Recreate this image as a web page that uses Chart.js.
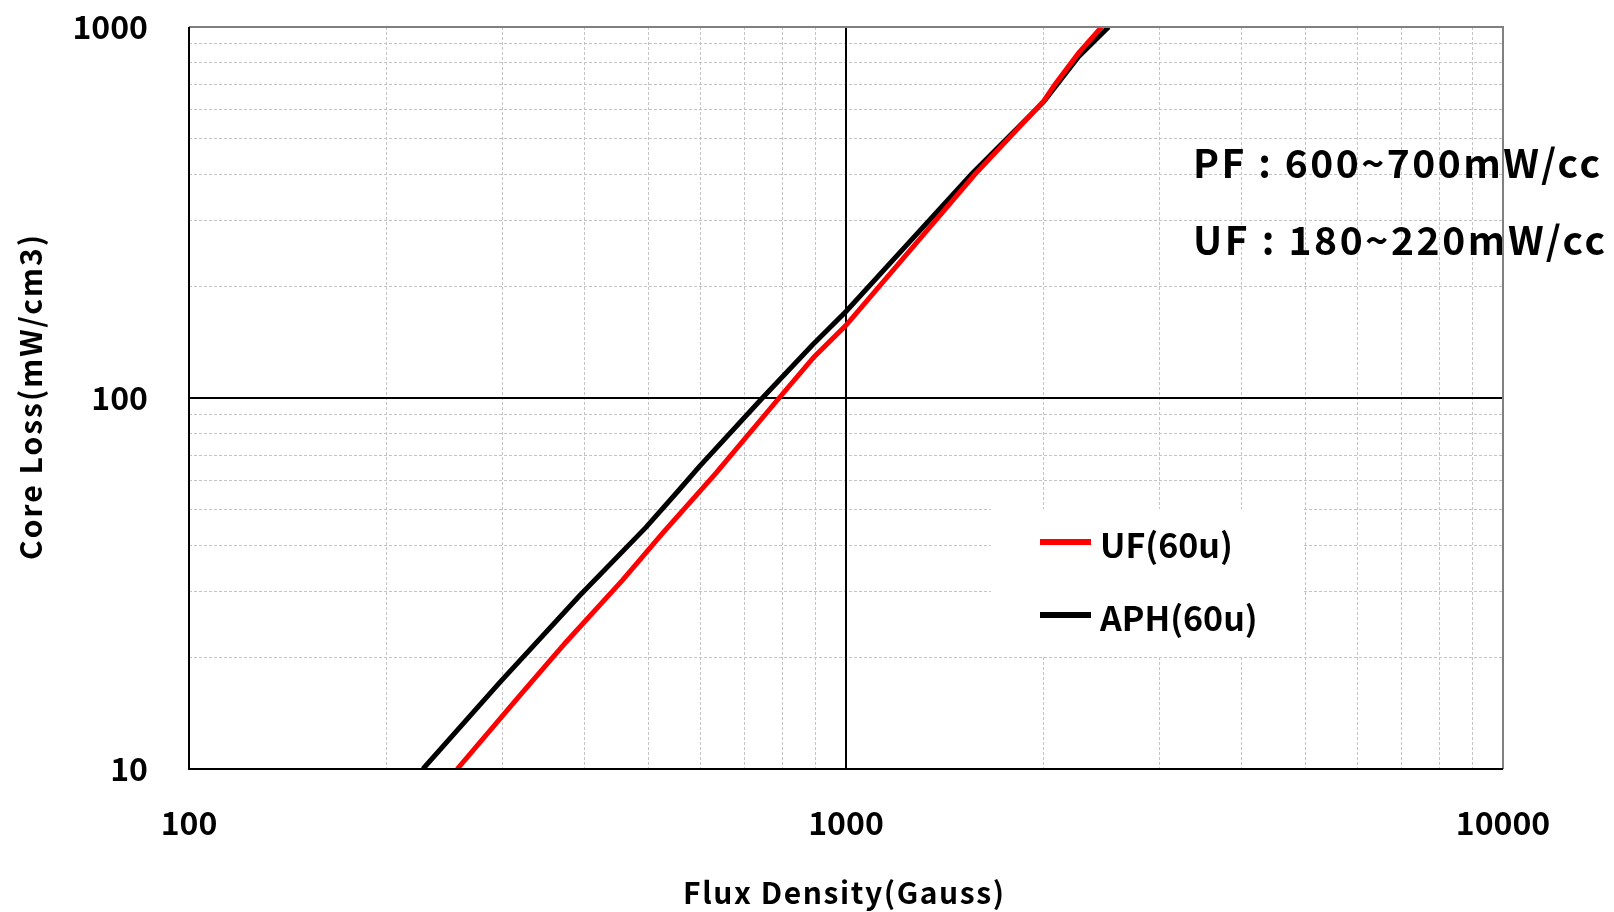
<!DOCTYPE html>
<html><head><meta charset="utf-8">
<script src="https://cdn.jsdelivr.net/npm/chart.js@4.4.1/dist/chart.umd.min.js"></script>
<style>html,body{margin:0;padding:0;background:#fff}#wrap{width:1614px;height:912px;position:relative}</style>
</head><body><div id="wrap"><canvas id="c"></canvas></div>
<script>
const seriesNames = ['UF(60u)', 'APH(60u)'];
const ufFlux  = [256, 318, 375, 457, 526, 634, 791, 894, 1000, 1570, 2000, 2080, 2259, 2449];
const ufLoss  = [10, 15.7, 22, 32.3, 43.2, 62.7, 100, 129, 157, 400, 632, 700, 850, 1000];
const aphFlux = [227, 297, 393, 496, 557, 598, 746, 889, 1000, 1556, 2000, 2259, 2510];
const aphLoss = [10, 17.1, 29.3, 44.8, 56.5, 65.3, 100, 139, 171, 403, 629, 832, 1000];
const xGridValues = [100,200,300,400,500,600,700,800,900,1000,2000,3000,4000,5000,6000,7000,8000,9000,10000];
const yGridValues = [10,20,30,40,50,60,70,80,90,100,200,300,400,500,600,700,800,900,1000];
const xTickLabels = ['100', '1000', '10000'];
const yTickLabels = ['10', '100', '1000'];
const xTitle = 'Flux Density(Gauss)';
const yTitle = 'Core Loss(mW/cm3)';
const noteLines = ['PF : 600~700mW/cc', 'UF : 180~220mW/cc'];
const seriesColors = ['#ff0000', '#000000'];

const FONT = '"Noto Sans CJK KR", "Noto Sans", sans-serif';
const isDecade = v => Math.abs(Math.log10(v) - Math.round(Math.log10(v))) < 1e-9;

function fitText(ctx, text, font, target) {
  ctx.font = font;
  if ('letterSpacing' in ctx) {
    ctx.letterSpacing = '0px';
    const w = ctx.measureText(text).width;
    ctx.letterSpacing = ((target - w) / (text.length - 1)) + 'px';
    return 1;
  }
  return target / ctx.measureText(text).width;
}
function drawFitted(ctx, text, font, target, x, y, rot) {
  ctx.save();
  ctx.translate(x, y);
  if (rot) ctx.rotate(rot);
  const k = fitText(ctx, text, font, target);
  ctx.scale(k, 1);
  ctx.fillText(text, 0, 0);
  ctx.restore();
}

const decor = {
  id: 'decor',
  beforeDatasetsDraw(chart) {
    const {ctx, chartArea: a, scales: {x, y}} = chart;
    ctx.save();
    ctx.strokeStyle = '#000'; ctx.lineWidth = 2;
    x.ticks.forEach(t => {
      if (isDecade(t.value) && t.value > x.min && t.value < x.max) {
        const p = Math.round(x.getPixelForValue(t.value));
        ctx.beginPath(); ctx.moveTo(p, a.top); ctx.lineTo(p, a.bottom); ctx.stroke();
      }
    });
    y.ticks.forEach(t => {
      if (isDecade(t.value) && t.value > y.min && t.value < y.max) {
        const p = Math.round(y.getPixelForValue(t.value));
        ctx.beginPath(); ctx.moveTo(a.left, p); ctx.lineTo(a.right, p); ctx.stroke();
      }
    });
    // legend background
    ctx.fillStyle = '#fff';
    ctx.fillRect(991, 509, 311, 147);
    ctx.restore();
  },
  afterDatasetsDraw(chart) {
    const {ctx, chartArea: a} = chart;
    ctx.save();
    // legend
    chart.data.datasets.forEach((ds, i) => {
      const yy = 542 + i * 73;
      ctx.strokeStyle = ds.borderColor; ctx.lineWidth = 6;
      ctx.beginPath(); ctx.moveTo(1040, yy); ctx.lineTo(1091, yy); ctx.stroke();
      ctx.fillStyle = '#000';
      ctx.font = 'bold 34px ' + FONT;
      ctx.textBaseline = 'alphabetic'; ctx.textAlign = 'left';
      ctx.fillText(ds.label, 1100, yy + 16);
    });
    // note text
    ctx.fillStyle = '#000';
    ctx.textBaseline = 'alphabetic'; ctx.textAlign = 'left';
    drawFitted(ctx, noteLines[0], 'bold 39px ' + FONT, 407, 1193, 178, 0);
    drawFitted(ctx, noteLines[1], 'bold 39px ' + FONT, 412, 1193, 255, 0);
    // borders
    ctx.lineWidth = 2;
    ctx.strokeStyle = '#808080';
    ctx.beginPath(); ctx.moveTo(a.left, a.top); ctx.lineTo(a.right, a.top); ctx.lineTo(a.right, a.bottom); ctx.stroke();
    ctx.strokeStyle = '#000';
    ctx.beginPath(); ctx.moveTo(a.left, a.top); ctx.lineTo(a.left, a.bottom); ctx.lineTo(a.right, a.bottom); ctx.stroke();
    ctx.restore();
  },
  afterDraw(chart) {
    const {ctx} = chart;
    ctx.save();
    ctx.fillStyle = '#000';
    ctx.textBaseline = 'middle'; ctx.textAlign = 'left';
    drawFitted(ctx, xTitle, 'bold 30px ' + FONT, 321, 683, 893, 0);
    drawFitted(ctx, yTitle, 'bold 30px ' + FONT, 325, 31, 560, -Math.PI / 2);
    ctx.restore();
  }
};

const mk = (xs, ys) => xs.map((v, i) => ({x: v, y: ys[i]}));

new Chart(document.getElementById('c'), {
  type: 'line',
  data: {
    datasets: [
      {label: seriesNames[0], data: mk(ufFlux, ufLoss), borderColor: seriesColors[0], borderWidth: 5, pointRadius: 0, tension: 0, fill: false},
      {label: seriesNames[1], data: mk(aphFlux, aphLoss), borderColor: seriesColors[1], borderWidth: 5, pointRadius: 0, tension: 0, fill: false}
    ]
  },
  options: {
    responsive: true, maintainAspectRatio: false, animation: false,
    layout: {padding: {top: 27, right: 111, left: 0, bottom: 0}},
    plugins: {legend: {display: false}, tooltip: {enabled: false}},
    scales: {
      x: {
        type: 'logarithmic', min: 100, max: 10000,
        afterBuildTicks: s => { s.ticks = xGridValues.map(v => ({value: v})); },
        afterFit: s => { s.height = 143; },
        grid: {drawTicks: false, lineWidth: 1, color: c => isDecade(c.tick.value) ? 'rgba(0,0,0,0)' : '#c4c4c4'},
        border: {display: false, dash: [3, 2]},
        ticks: {
          autoSkip: false, maxRotation: 0, padding: 35, color: '#000',
          font: {family: FONT, size: 32, weight: 'bold'},
          callback: v => { const s = String(v); return xTickLabels.includes(s) ? s : ''; }
        },
        title: {display: false}
      },
      y: {
        type: 'logarithmic', min: 10, max: 1000,
        afterBuildTicks: s => { s.ticks = yGridValues.map(v => ({value: v})); },
        afterFit: s => { s.width = 189; s.paddingTop = 0; s.paddingBottom = 0; },
        grid: {drawTicks: false, lineWidth: 1, color: c => isDecade(c.tick.value) ? 'rgba(0,0,0,0)' : '#c4c4c4'},
        border: {display: false, dash: [3, 2]},
        ticks: {
          autoSkip: false, padding: 41, color: '#000',
          font: {family: FONT, size: 32, weight: 'bold'},
          callback: v => { const s = String(v); return yTickLabels.includes(s) ? s : ''; }
        },
        title: {display: false}
      }
    }
  },
  plugins: [decor]
});
</script>
</body></html>
